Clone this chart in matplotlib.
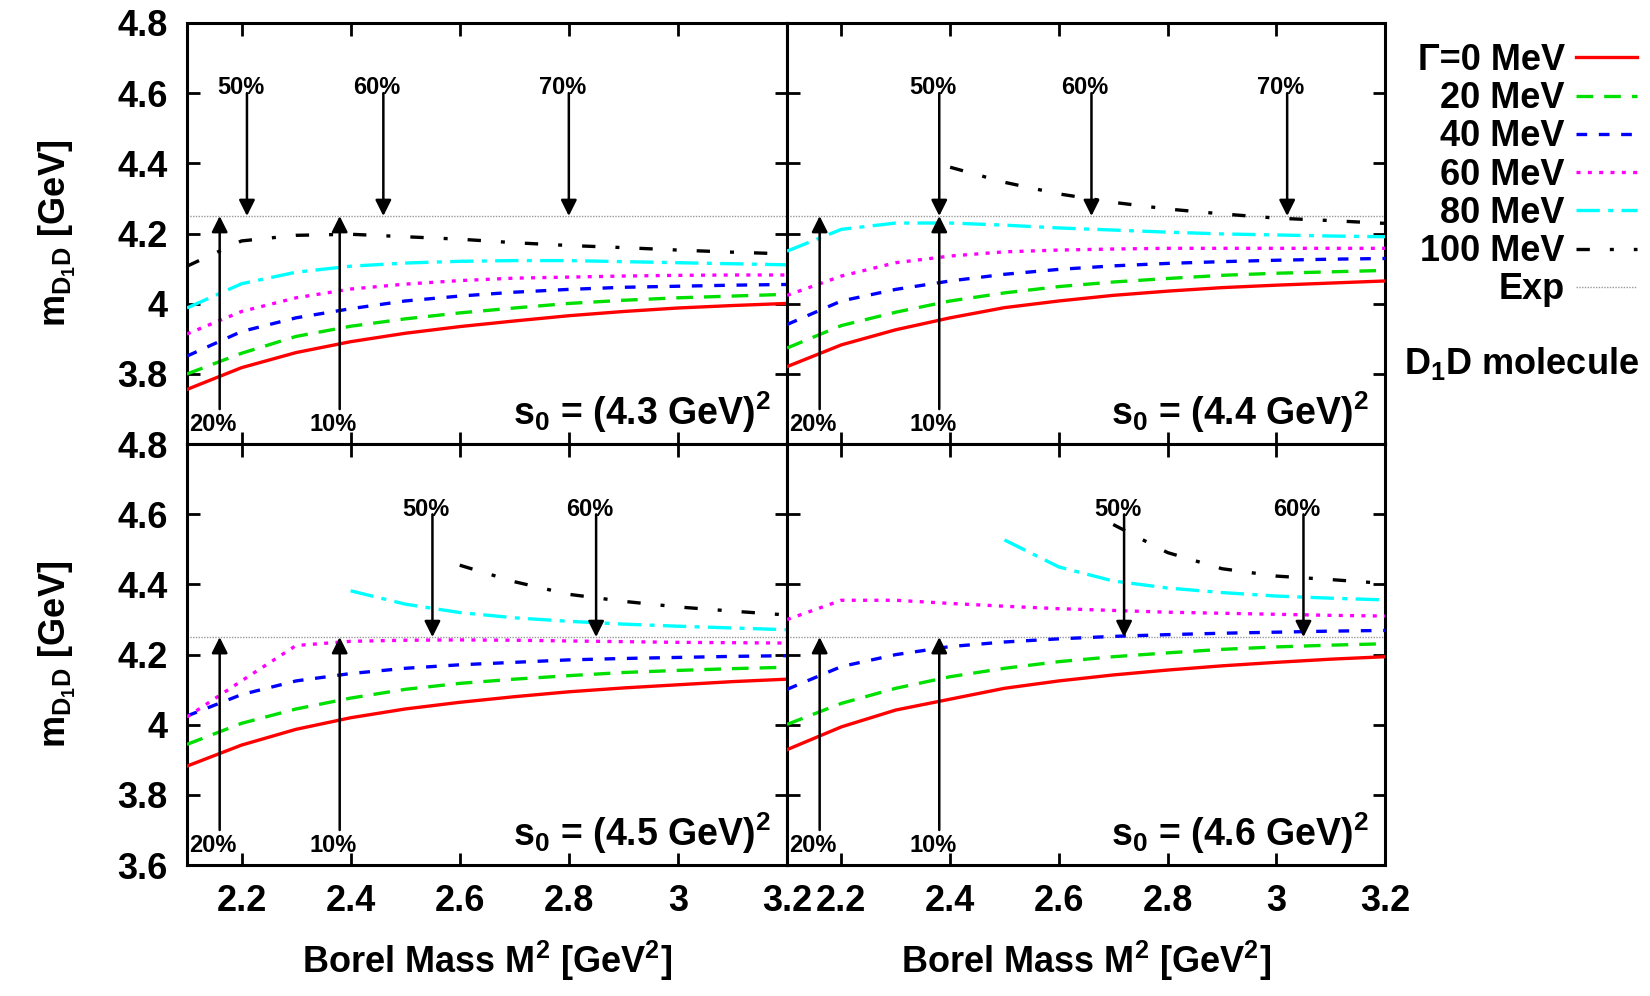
import matplotlib
matplotlib.use('Agg')
import matplotlib.pyplot as plt
from matplotlib.lines import Line2D

plt.rcParams.update({
    'font.family': ['Liberation Sans', 'DejaVu Sans'],
    'font.weight': 'bold',
    'axes.labelweight': 'bold',
    'mathtext.fontset': 'custom',
    'mathtext.rm': 'Liberation Sans:bold',
    'mathtext.it': 'Liberation Sans:bold',
    'mathtext.bf': 'Liberation Sans:bold',
    'mathtext.default': 'rm',
})

# Borel mass grid
m2 = [2.1, 2.2, 2.3, 2.4, 2.5, 2.6, 2.7, 2.8, 2.9, 3.0, 3.1, 3.2]
exp_mass = 4.25

widths = ['\u0393=0 MeV', '20 MeV', '40 MeV', '60 MeV', '80 MeV', '100 MeV']
s0_labels = ['4.3', '4.4', '4.5', '4.6']

# mass curves per panel (s0 = 4.3, 4.4, 4.5, 4.6 GeV^2), one list per width
# None = no solution there
s43 = [
    [3.756, 3.818, 3.861, 3.892, 3.916, 3.935, 3.951, 3.966, 3.978, 3.988, 3.995, 4.001],
    [3.800, 3.859, 3.907, 3.936, 3.957, 3.974, 3.988, 4.001, 4.010, 4.017, 4.022, 4.027],
    [3.851, 3.921, 3.960, 3.986, 4.008, 4.022, 4.033, 4.041, 4.047, 4.050, 4.053, 4.055],
    [3.914, 3.978, 4.017, 4.042, 4.056, 4.066, 4.073, 4.076, 4.079, 4.081, 4.082, 4.082],
    [3.988, 4.057, 4.090, 4.107, 4.116, 4.121, 4.123, 4.123, 4.120, 4.117, 4.114, 4.111],
    [4.107, 4.179, 4.195, 4.198, 4.191, 4.184, 4.174, 4.166, 4.160, 4.153, 4.147, 4.142],
]
s44 = [
    [3.821, 3.883, 3.926, 3.960, 3.989, 4.008, 4.024, 4.036, 4.046, 4.053, 4.059, 4.065],
    [3.874, 3.938, 3.976, 4.008, 4.031, 4.049, 4.062, 4.072, 4.081, 4.087, 4.091, 4.095],
    [3.941, 4.008, 4.041, 4.065, 4.084, 4.098, 4.108, 4.115, 4.120, 4.124, 4.127, 4.129],
    [4.024, 4.079, 4.117, 4.136, 4.148, 4.153, 4.156, 4.158, 4.158, 4.158, 4.158, 4.158],
    [4.150, 4.212, 4.230, 4.230, 4.224, 4.216, 4.210, 4.204, 4.199, 4.196, 4.193, 4.191],
    [None, None, None, 4.389, 4.346, 4.313, 4.289, 4.270, 4.256, 4.244, 4.237, 4.229],
]
s45 = [
    [3.882, 3.942, 3.987, 4.020, 4.045, 4.064, 4.080, 4.094, 4.105, 4.114, 4.123, 4.130],
    [3.944, 4.004, 4.045, 4.076, 4.101, 4.118, 4.130, 4.140, 4.149, 4.155, 4.160, 4.164],
    [4.025, 4.086, 4.125, 4.146, 4.161, 4.171, 4.178, 4.185, 4.189, 4.192, 4.195, 4.197],
    [4.022, 4.125, 4.226, 4.238, 4.241, 4.242, 4.241, 4.239, 4.237, 4.235, 4.234, 4.233],
    [None, None, None, 4.382, 4.344, 4.320, 4.305, 4.295, 4.287, 4.281, 4.276, 4.271],
    [None, None, None, None, None, 4.455, 4.408, 4.372, 4.352, 4.336, 4.324, 4.313],
]
s46 = [
    [3.929, 3.994, 4.042, 4.073, 4.104, 4.125, 4.142, 4.156, 4.168, 4.178, 4.187, 4.194],
    [4.001, 4.061, 4.104, 4.137, 4.161, 4.180, 4.194, 4.205, 4.215, 4.222, 4.227, 4.231],
    [4.101, 4.166, 4.200, 4.223, 4.236, 4.245, 4.252, 4.257, 4.261, 4.264, 4.267, 4.269],
    [4.300, 4.355, 4.355, 4.346, 4.338, 4.331, 4.326, 4.321, 4.318, 4.315, 4.312, 4.310],
    [None, None, None, None, 4.527, 4.450, 4.410, 4.390, 4.377, 4.367, 4.361, 4.356],
    [None, None, None, None, None, None, 4.571, 4.491, 4.445, 4.424, 4.414, 4.403],
]
panels = [s43, s44, s45, s46]

# pole contribution (down arrows) and continuum (up arrows) markers
down_x = [[2.21, 2.46, 2.80], [2.38, 2.66, 3.02], [2.55, 2.85], [2.72, 3.05]]
down_lab = [['50%', '60%', '70%'], ['50%', '60%', '70%'], ['50%', '60%'], ['50%', '60%']]
up_x = [2.16, 2.38]
up_lab = ['20%', '10%']

colors = ['#ff0000', '#00e000', '#0000ff', '#ff00ff', '#00ffff', '#000000']
dashes = [None, (5, 3.3), (3.2, 3.5), (1.2, 2.2), (7, 2.5, 1.5, 2.5), (4, 6, 1.2, 6)]

fig = plt.figure(figsize=(16.5, 9.96), dpi=100)
L, M, R = 0.1133, 0.477, 0.8394
B, C, T = 0.1315, 0.554, 0.977
boxes = [(L, C, M - L, T - C), (M, C, R - M, T - C),
         (L, B, M - L, C - B), (M, B, R - M, C - B)]

handles = []
for i, data in enumerate(panels):
    ax = fig.add_axes(boxes[i])
    ax.set_xlim(2.1, 3.2)
    ax.set_ylim(3.6, 4.8)
    ax.axhline(exp_mass, color='#999999', lw=1.0, ls=(0, (1, 1)), zorder=1)
    for k, ys in enumerate(data):
        xs = [x for x, y in zip(m2, ys) if y is not None]
        yv = [y for y in ys if y is not None]
        ln, = ax.plot(xs, yv, color=colors[k], lw=2.4, zorder=3)
        if dashes[k] is not None:
            ln.set_dashes(dashes[k])
        if i == 0:
            handles.append(ln)
    for x, lab in zip(down_x[i], down_lab[i]):
        ax.annotate('', xy=(x, exp_mass), xytext=(x, 4.6),
                    arrowprops=dict(arrowstyle='-|>', color='k', lw=1.8,
                                    mutation_scale=24, shrinkA=0, shrinkB=0), zorder=4)
        ax.text(x - 0.012, 4.615, lab, ha='center', va='center', fontsize=17)
    for x, lab in zip(up_x, up_lab):
        ax.annotate('', xy=(x, exp_mass), xytext=(x, 3.70),
                    arrowprops=dict(arrowstyle='-|>', color='k', lw=1.8,
                                    mutation_scale=24, shrinkA=0, shrinkB=0), zorder=4)
        ax.text(x - 0.012, 3.655, lab, ha='center', va='center', fontsize=17)
    ax.text(3.17, 3.655, '$s_0$ = (%s GeV)$^2$' % s0_labels[i], ha='right', va='baseline',
            fontsize=27)

    ax.set_xticks([2.2, 2.4, 2.6, 2.8, 3.0, 3.2])
    ax.set_xticklabels(['2.2', '2.4', '2.6', '2.8', '3', '3.2'])
    if i < 2:
        ax.set_yticks([3.8, 4.0, 4.2, 4.4, 4.6, 4.8])
        ax.set_yticklabels(['3.8', '4', '4.2', '4.4', '4.6', '4.8'])
    else:
        ax.set_yticks([3.6, 3.8, 4.0, 4.2, 4.4, 4.6, 4.8])
        ax.set_yticklabels(['3.6', '3.8', '4', '4.2', '4.4', '4.6', '4.8'])
    ax.tick_params(direction='in', length=9, width=2, top=True, right=True,
                   labelsize=26, pad=14,
                   labelbottom=(i >= 2), labelleft=(i % 2 == 0))
    for sp in ax.spines.values():
        sp.set_linewidth(2.2)
    if i % 2 == 0:
        ax.set_ylabel('m$_{D_1D}$ [GeV]', fontsize=26, labelpad=28)
    if i >= 2:
        ax.set_xlabel('Borel Mass M$^2$ [GeV$^2$]', fontsize=26, labelpad=14)

handles.append(Line2D([], [], color='#999999', lw=1.0, ls=(0, (1, 1))))
fig.legend(handles, widths + ['Exp'], loc='upper right', bbox_to_anchor=(1.003, 0.975),
           frameon=False, markerfirst=False, fontsize=26, handlelength=1.7,
           handletextpad=0.3, labelspacing=0.09, borderpad=0)
fig.text(0.9935, 0.6245, 'D$_1$D molecule', ha='right', va='baseline', fontsize=26)

fig.savefig('out.png', dpi=100, facecolor='white')
